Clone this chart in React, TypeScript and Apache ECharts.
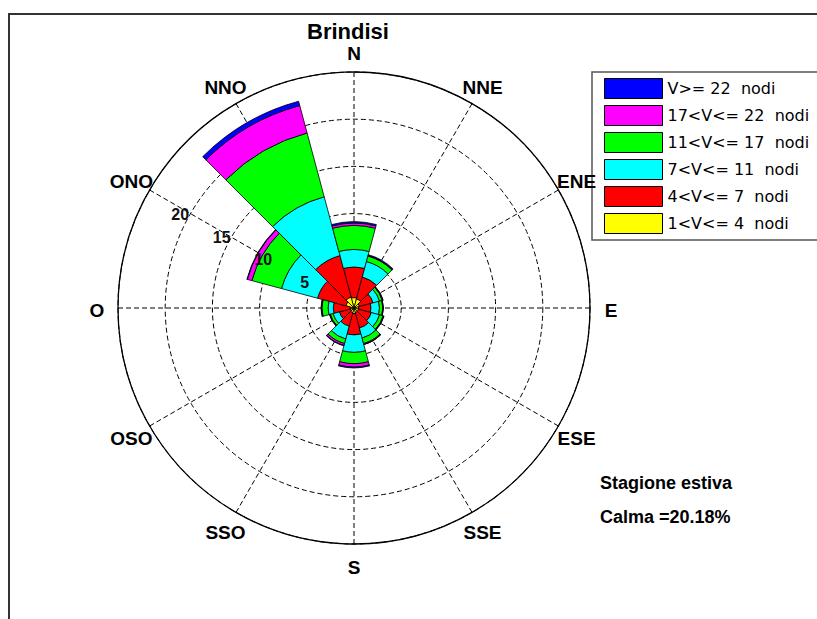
import React, { useEffect, useRef } from 'react';
import * as echarts from 'echarts';

// Compass sectors (30° each), clockwise from north
const DIRECTIONS = ['N', 'NNE', 'ENE', 'E', 'ESE', 'SSE', 'S', 'SSO', 'OSO', 'O', 'ONO', 'NNO'];

// Frequency rings (%)
const RING_TICKS = [5, 10, 15, 20];

// Wind speed classes, from the lightest to the strongest
const SPEED_CLASSES = [
  '1<V<= 4  nodi',
  '4<V<= 7  nodi',
  '7<V<= 11  nodi',
  '11<V<= 17  nodi',
  '17<V<= 22  nodi',
  'V>= 22  nodi',
];
const CLASS_COLORS = ['#ffff00', '#ff0000', '#00ffff', '#00ff00', '#ff00ff', '#0000ff'];

// Frequency (%) of each speed class per direction, same order as DIRECTIONS
const V_1_4 = [1.1, 1.0, 0.6, 0.5, 0.5, 0.5, 0.6, 0.5, 0.4, 0.4, 0.9, 1.2];
const V_4_7 = [3.25, 2.4, 1.5, 1.3, 1.4, 1.7, 2.25, 1.5, 1.2, 1.8, 3.1, 4.55];
const V_7_11 = [1.85, 1.7, 0.7, 0.9, 0.9, 1.1, 1.85, 1.4, 0.7, 0.55, 3.95, 6.45];
const V_11_17 = [2.55, 0.6, 0.3, 0.35, 0.4, 0.6, 1.2, 0.5, 0.3, 0.65, 3.25, 7.0];
const V_17_22 = [0.25, 0.05, 0.05, 0.05, 0.05, 0.1, 0.35, 0.2, 0.05, 0.05, 0.5, 3.0];
const V_22_UP = [0.15, 0.1, 0.05, 0, 0.05, 0, 0.1, 0.05, 0.05, 0.05, 0.05, 0.47];

const CLASS_VALUES = [V_1_4, V_4_7, V_7_11, V_11_17, V_17_22, V_22_UP];

const TITLE = 'Brindisi';
const SEASON = 'Stagione estiva';
const CALM = 'Calma =20.18%';

const CENTER = [354, 308];
const RADIUS = 236;
const R_MAX = 25;

export default function App() {
  const ref = useRef<HTMLDivElement>(null);

  useEffect(() => {
    const chart = echarts.init(ref.current as HTMLDivElement, null, { renderer: 'svg' });
    const [cx, cy] = CENTER;
    const pxPerUnit = RADIUS / R_MAX;

    const dashed = { color: '#000', width: 1, type: [5, 3] as number[] };

    // compass names around the outer circle
    const dirLabels = DIRECTIONS.map((d, i) => {
      const a = (i * 30 * Math.PI) / 180;
      const r = RADIUS + 21;
      return {
        type: 'text',
        x: cx + r * Math.sin(a),
        y: cy - r * Math.cos(a) + 2,
        z: 10,
        style: {
          text: d,
          fill: '#000',
          font: 'bold 19px "Liberation Sans", Arial, sans-serif',
          align: 'center',
          verticalAlign: 'middle',
        },
      };
    });

    // ring values along a line 28.5° above the west spoke
    const ringAngle = (28.5 * Math.PI) / 180;
    const ringLabels = RING_TICKS.map((v) => {
      const r = (v + 0.95) * pxPerUnit;
      return {
        type: 'text',
        x: cx - r * Math.cos(ringAngle),
        y: cy - r * Math.sin(ringAngle) + 1,
        z: 10,
        style: {
          text: String(v),
          fill: '#111',
          font: 'bold 16px "Liberation Sans", Arial, sans-serif',
          align: 'center',
          verticalAlign: 'middle',
        },
      };
    });

    const series = SPEED_CLASSES.map((name, k) => ({
      type: 'bar',
      name,
      coordinateSystem: 'polar',
      polarIndex: 0,
      stack: 'rose',
      data: CLASS_VALUES[k],
      barCategoryGap: '0%',
      itemStyle: { color: CLASS_COLORS[k], borderColor: '#000', borderWidth: 0.8 },
    }));

    chart.setOption({
      animation: false,
      backgroundColor: '#fff',
      polar: [
        { center: [cx, cy], radius: RADIUS },
        { center: [cx, cy], radius: RADIUS },
      ],
      angleAxis: [
        {
          polarIndex: 0,
          type: 'category',
          data: DIRECTIONS,
          startAngle: 105,
          clockwise: true,
          axisLine: { show: true, lineStyle: { color: '#000', width: 1.3 } },
          axisTick: { show: false },
          axisLabel: { show: false },
          splitLine: { show: false },
        },
        {
          polarIndex: 1,
          type: 'value',
          min: 0,
          max: 360,
          interval: 30,
          startAngle: 90,
          clockwise: true,
          axisLine: { show: false },
          axisTick: { show: false },
          axisLabel: { show: false },
          splitLine: { show: true, lineStyle: dashed },
        },
      ],
      radiusAxis: [
        {
          polarIndex: 0,
          type: 'value',
          min: 0,
          max: R_MAX,
          interval: 5,
          axisLine: { show: false },
          axisTick: { show: false },
          axisLabel: { show: false },
          splitLine: { show: true, lineStyle: dashed },
        },
        {
          polarIndex: 1,
          type: 'value',
          min: 0,
          max: R_MAX,
          axisLine: { show: false },
          axisTick: { show: false },
          axisLabel: { show: false },
          splitLine: { show: false },
        },
      ],
      legend: {
        data: [...SPEED_CLASSES].reverse(),
        orient: 'vertical',
        left: 604,
        top: 78,
        padding: 0,
        itemWidth: 58,
        itemHeight: 20,
        itemGap: 6,
        icon: 'rect',
        selectedMode: false,
        z: 5,
        itemStyle: { borderColor: '#000', borderWidth: 1 },
        textStyle: { fontSize: 16, color: '#000', fontFamily: '"DejaVu Sans", sans-serif' },
      },
      series,
      graphic: [
        {
          type: 'rect',
          z: 0,
          shape: { x: 9, y: 14, width: 900, height: 700 },
          style: { fill: 'none', stroke: '#333', lineWidth: 2 },
        },
        {
          type: 'rect',
          z: 1,
          shape: { x: 592, y: 72, width: 300, height: 168 },
          style: { fill: '#fff', stroke: '#555', lineWidth: 1.5 },
        },
        {
          type: 'text',
          x: 348,
          y: 31,
          z: 10,
          style: {
            text: TITLE,
            fill: '#000',
            font: 'bold 22px "Liberation Sans", Arial, sans-serif',
            align: 'center',
            verticalAlign: 'middle',
          },
        },
        ...dirLabels,
        ...ringLabels,
        {
          type: 'text',
          x: 600,
          y: 483,
          z: 10,
          style: {
            text: SEASON,
            fill: '#000',
            font: 'bold 18px "Liberation Sans", Arial, sans-serif',
            align: 'left',
            verticalAlign: 'middle',
          },
        },
        {
          type: 'text',
          x: 600,
          y: 517,
          z: 10,
          style: {
            text: CALM,
            fill: '#000',
            font: 'bold 18px "Liberation Sans", Arial, sans-serif',
            align: 'left',
            verticalAlign: 'middle',
          },
        },
      ],
    });

    return () => chart.dispose();
  }, []);

  return (
    <div
      ref={ref}
      style={{ position: 'fixed', left: 0, top: 0, width: 817, height: 619, background: '#fff' }}
    />
  );
}
